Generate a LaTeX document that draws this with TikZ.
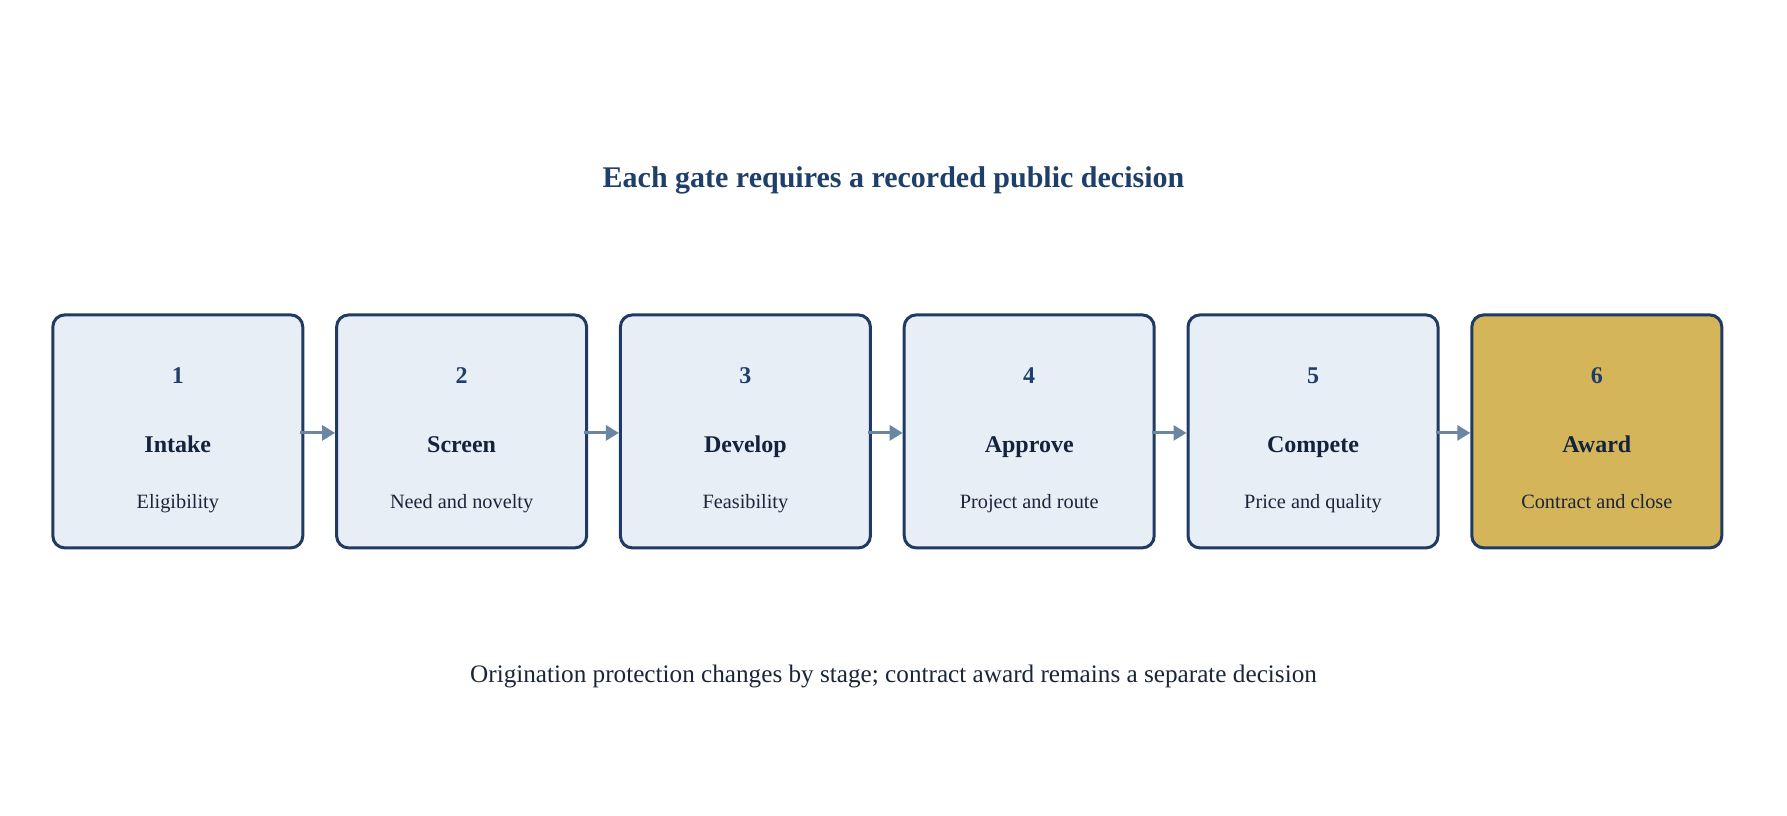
\documentclass[tikz,border=0pt]{standalone}
\usepackage{fontspec}
\setmainfont{Liberation Serif}
\usetikzlibrary{arrows.meta}
\definecolor{navy}{HTML}{1F3B64}
\definecolor{boxfill}{HTML}{E8EEF6}
\definecolor{gold}{HTML}{D4B55A}
\definecolor{arrowc}{HTML}{6B86A3}
\definecolor{titlec}{HTML}{1F3F6B}
\definecolor{labelc}{HTML}{14233D}
\definecolor{descc}{HTML}{1B2538}
\begin{document}
\begin{tikzpicture}[x=1pt,y=-1pt,
  stagebox/.style={draw=navy,line width=3pt,fill=boxfill,rounded corners=12pt,
    minimum width=250pt,minimum height=233pt,inner sep=0pt},
  awardbox/.style={stagebox,fill=gold},
  numtxt/.style={font=\fontsize{24}{28}\selectfont\bfseries,text=titlec,inner sep=0pt,anchor=base},
  labtxt/.style={font=\fontsize{24}{28}\selectfont\bfseries,text=labelc,inner sep=0pt,anchor=base},
  desctxt/.style={font=\fontsize{20.3}{24}\selectfont,text=descc,inner sep=0pt,anchor=base},
  flow/.style={draw=arrowc,line width=3pt,-{Triangle[length=13pt,width=15pt]}}]
\useasboundingbox (0,0) rectangle (1787,815);
\node[font=\fontsize{30}{35}\selectfont\bfseries,text=titlec] (title) at (893.5,180.5) {Each gate requires a recorded public decision};
\foreach \i/\n/\l/\d in {1/1/Intake/Eligibility,2/2/Screen/Need and novelty,3/3/Develop/Feasibility,4/4/Approve/Project and route,5/5/Compete/Price and quality}{
  \node[stagebox] (b\i) at ({177.8+283.8*(\i-1)},431.4) {};
  \node[numtxt] (n\i) at ({177.8+283.8*(\i-1)},383.5) {\n};
  \node[labtxt] (l\i) at ({177.8+283.8*(\i-1)},452.7) {\l};
  \node[desctxt] (d\i) at ({177.8+283.8*(\i-1)},508) {\d};
}
\node[awardbox] (b6) at ({177.8+283.8*5},431.4) {};
\node[numtxt] (n6) at ({177.8+283.8*5},383.5) {6};
\node[labtxt] (l6) at ({177.8+283.8*5},452.7) {Award};
\node[desctxt] (d6) at ({177.8+283.8*5},508) {Contract and close};
\foreach \a/\b in {1/2,2/3,3/4,4/5,5/6}{
  \draw[flow] ([xshift=-4pt,yshift=-1.5pt]b\a.east) -- ([yshift=-1.5pt]b\b.west);
}
\node[font=\fontsize{25.2}{30}\selectfont,text=descc] (foot) at (893.5,676) {Origination protection changes by stage; contract award remains a separate decision};
\end{tikzpicture}
\end{document}
